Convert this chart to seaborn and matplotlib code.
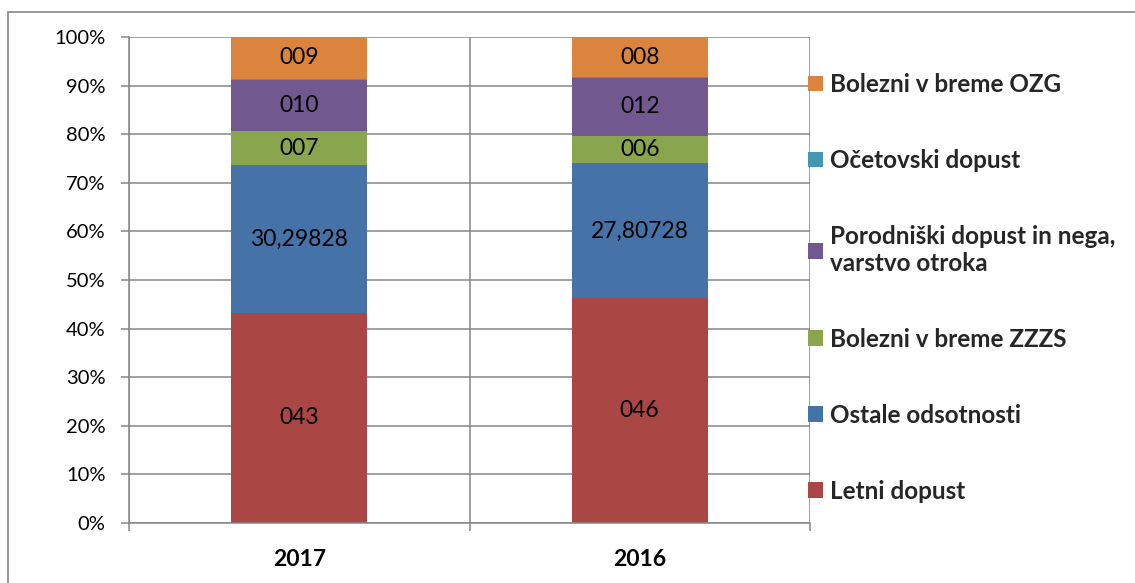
import numpy as np
import pandas as pd
import seaborn as sns
import matplotlib.pyplot as plt
from matplotlib.patches import Rectangle
from matplotlib.ticker import PercentFormatter

# podatki (delež v %)
years = ['2017', '2016']
series = ['Letni dopust', 'Ostale odsotnosti', 'Bolezni v breme ZZZS',
          'Porodniški dopust in nega,\nvarstvo otroka', 'Očetovski dopust',
          'Bolezni v breme OZG']
letni = [43.3, 46.2]
ostale = [30.29828, 27.80728]
zzzs = [7.1, 5.7]
porodniski = [10.5, 11.8]
ocetovski = [0.2, 0.2]
ozg = [8.6, 8.3]
colors = ['#AA4643', '#4572A7', '#89A54E', '#71588F', '#4198AF', '#DB843D']

sns.set_theme(style='white')
plt.rcParams['font.family'] = ['Lato', 'DejaVu Sans']

values = np.array([letni, ostale, zzzs, porodniski, ocetovski, ozg])
shares = values / values.sum(axis=0) * 100

grey = '#868686'
fig = plt.figure(figsize=(11.35, 5.83), dpi=100)
ax = fig.add_axes([129 / 1135, 60 / 583, 681 / 1135, 486 / 583])

bottom = np.zeros(len(years))
for i, (name, col) in enumerate(zip(series, colors)):
    df = pd.DataFrame({'leto': years, 'delez': shares[i]})
    sns.barplot(data=df, x='leto', y='delez', order=years, bottom=bottom,
                color=col, saturation=1, width=0.4, linewidth=0,
                label=name, ax=ax)
    if name != 'Očetovski dopust':
        if name == 'Ostale odsotnosti':
            labels = [f'{v:.5f}'.replace('.', ',') for v in values[i]]
        else:
            labels = [f'{int(round(v)):03d}' for v in values[i]]
        ax.bar_label(ax.containers[-1], labels=labels, label_type='center',
                     fontsize=16.5, color='black')
    bottom = bottom + shares[i]

if ax.get_legend() is not None:
    ax.get_legend().remove()

ax.set_xlim(-0.5, 1.5)
ax.set_ylim(0, 100)
ax.set_yticks(range(0, 101, 10))
ax.yaxis.set_major_formatter(PercentFormatter(decimals=0))
ax.set_xticks([-0.5, 0.5, 1.5], minor=True)
ax.set_xlabel('')
ax.set_ylabel('')

ax.set_axisbelow(True)
ax.grid(axis='y', which='major', color=grey, linewidth=1.1)
ax.grid(axis='x', which='minor', color=grey, linewidth=1.1)
ax.grid(axis='x', which='major', visible=False)

ax.tick_params(axis='y', left=True, length=6, width=1.1, color=grey,
               pad=11, labelsize=14.5, labelcolor='black')
ax.tick_params(axis='x', which='major', bottom=True, length=0, pad=19,
               labelsize=16.5, labelcolor='black')
ax.tick_params(axis='x', which='minor', bottom=True, length=6, width=1.1,
               color=grey)
for t in ax.get_xticklabels():
    t.set_fontweight('bold')

for side in ['top', 'right']:
    ax.spines[side].set_visible(False)
for side in ['left', 'bottom']:
    ax.spines[side].set_color(grey)
    ax.spines[side].set_linewidth(1.1)

handles, labs = ax.get_legend_handles_labels()
fig.legend(handles[::-1], labs[::-1], loc='upper left',
           bbox_to_anchor=(808 / 1135, 1 - 73 / 583),
           bbox_transform=fig.transFigure, frameon=False,
           prop={'size': 17.5, 'weight': 'bold'},
           handlelength=0.6, handleheight=0.6, handletextpad=0.3,
           labelspacing=2.18, borderpad=0, borderaxespad=0)

fig.patches.append(Rectangle((8 / 1135, -0.1), 1.2, 1.1 - 12 / 583,
                             transform=fig.transFigure, fill=False,
                             edgecolor=grey, linewidth=1.2))

fig.savefig('out.png', dpi=100)
